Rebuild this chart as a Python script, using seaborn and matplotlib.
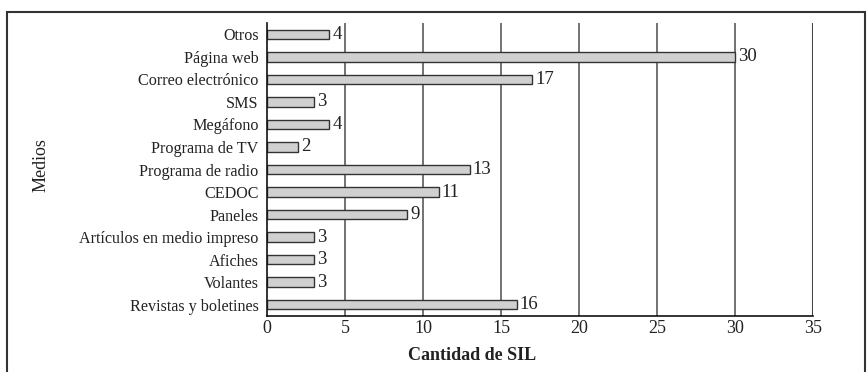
import numpy as np
import pandas as pd
import matplotlib
matplotlib.use("Agg")
import matplotlib.pyplot as plt
import seaborn as sns
from matplotlib.patches import Rectangle

# Chart data (top to bottom)
medios = ["Otros", "Página web", "Correo electrónico", "SMS", "Megáfono",
          "Programa de TV", "Programa de radio", "CEDOC", "Paneles",
          "Artículos en medio impreso", "Afiches", "Volantes",
          "Revistas y boletines"]
cantidad = [4, 30, 17, 3, 4, 2, 13, 11, 9, 3, 3, 3, 16]
x_ticks = [0, 5, 10, 15, 20, 25, 30, 35]

df = pd.DataFrame({"Medios": medios, "Cantidad de SIL": cantidad})

sns.set_style("white")
plt.rcParams["font.family"] = ["Liberation Serif", "DejaVu Serif"]

W, H = 867, 372
fig = plt.figure(figsize=(W / 100, H / 100), dpi=100)
ax = fig.add_axes([267 / W, 1 - 316 / H, (813 - 267) / W, (316 - 23) / H])

# Vertical grid lines
for t in x_ticks[1:]:
    ax.axvline(t, color="#444444" if t == 35 else "#5a5a5a",
               lw=1.5 if t == 35 else 1.2, zorder=0)

sns.barplot(data=df, x="Cantidad de SIL", y="Medios", order=medios,
            orient="h", color="#d0d0d0", edgecolor="#333333", linewidth=1.0,
            width=0.42, saturation=1, ax=ax, zorder=2)

# Value labels
ax.bar_label(ax.containers[0], labels=[str(v) for v in cantidad],
             padding=2, fontsize=13.5, color="#222222")

ax.set_xlim(0, 35)
ax.set_ylim(len(medios) - 0.5, -0.5)
ax.set_xticks(x_ticks)
ax.tick_params(axis="x", length=0, pad=3, labelsize=13, labelcolor="#222222")
ax.tick_params(axis="y", which="major", length=0, pad=6, labelsize=11.6,
               labelcolor="#222222")
ax.set_yticks(np.arange(-0.5, len(medios), 1.0), minor=True)
ax.tick_params(axis="y", which="minor", length=4, width=1, color="#222222")

for s in ["top", "right"]:
    ax.spines[s].set_visible(False)
for s in ["left", "bottom"]:
    ax.spines[s].set_color("#111111")
    ax.spines[s].set_linewidth(1.2)

ax.set_xlabel("")
ax.set_ylabel("")
fig.text(472 / W, 1 - 355 / H, "Cantidad de SIL", ha="center", va="center",
         fontsize=13, fontweight="bold", color="#222222")
fig.text(41 / W, 1 - 165 / H, "Medios", ha="center", va="center",
         rotation=90, fontsize=13, color="#222222")

# Outer frame
fig.patches.append(Rectangle((7 / W, -0.05), (865 - 7) / W, 1.05 - 12 / H,
                             transform=fig.transFigure, fill=False,
                             edgecolor="#333333", lw=1.5))

fig.savefig("out.png", dpi=100)
